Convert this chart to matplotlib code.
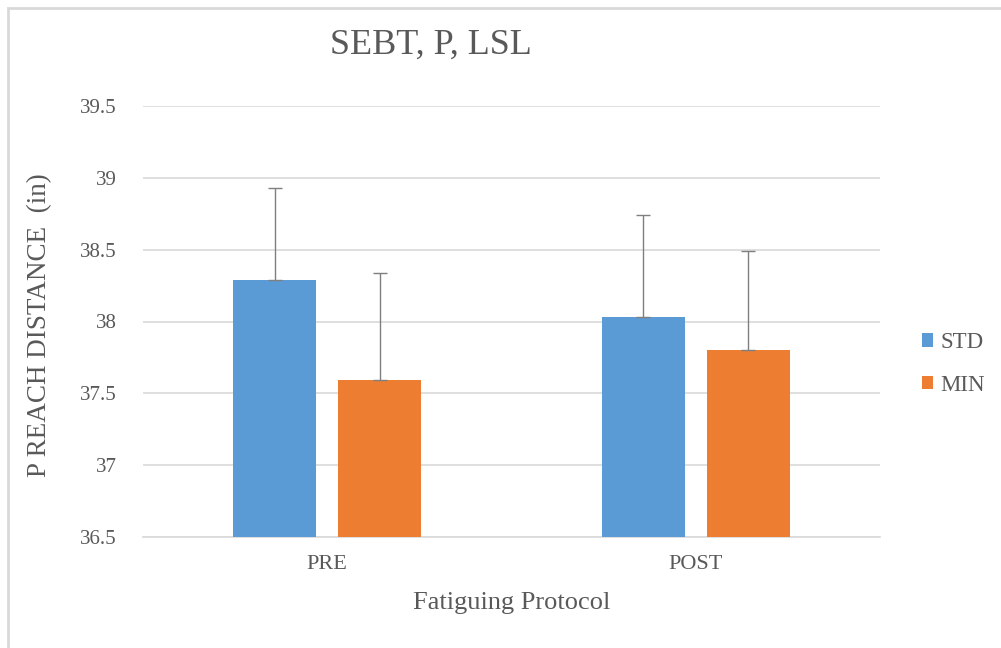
import matplotlib
matplotlib.use("Agg")
import matplotlib.pyplot as plt
from matplotlib.patches import Rectangle
import numpy as np

# Data
categories = ["PRE", "POST"]
series_names = ["STD", "MIN"]
std_means = [38.29, 38.03]
min_means = [37.59, 37.80]
std_err = [0.64, 0.71]
min_err = [0.75, 0.69]
y_ticks = [36.5, 37, 37.5, 38, 38.5, 39, 39.5]
y_tick_labels = ["36.5", "37", "37.5", "38", "38.5", "39", "39.5"]

BLUE = "#5b9bd5"
ORANGE = "#ed7d31"
TEXT = "#595959"
GRID = "#d9d9d9"
ERR = "#7f7f7f"

plt.rcParams["font.family"] = ["Liberation Serif", "DejaVu Serif"]

W, H = 1001, 648
fig = plt.figure(figsize=(W / 100, H / 100), dpi=100)
ax = fig.add_axes([143 / W, (H - 537) / H, (880 - 143) / W, (537 - 106) / H])

x = np.arange(len(categories))
width = 0.2255
offset = 0.142

err_kw = dict(ecolor=ERR, elinewidth=1.0, capsize=5, capthick=1.0)
ax.bar(x - offset, std_means, width, color=BLUE, label=series_names[0],
       yerr=[np.zeros(len(std_err)), std_err], error_kw=err_kw, zorder=3)
ax.bar(x + offset, min_means, width, color=ORANGE, label=series_names[1],
       yerr=[np.zeros(len(min_err)), min_err], error_kw=err_kw, zorder=3)

ax.set_xlim(-0.5, 1.5)
ax.set_ylim(36.5, 39.5)
ax.set_yticks(y_ticks)
ax.set_yticklabels(y_tick_labels)
ax.set_xticks(x)
ax.set_xticklabels(categories)

ax.yaxis.grid(True, color=GRID, linewidth=1.2, zorder=0)
ax.set_axisbelow(True)
for side in ["top", "right", "left"]:
    ax.spines[side].set_visible(False)
ax.spines["bottom"].set_color(GRID)
ax.spines["bottom"].set_linewidth(1.2)
ax.tick_params(axis="both", length=0, colors=TEXT)
ax.tick_params(axis="y", pad=19, labelsize=15)
ax.tick_params(axis="x", pad=13, labelsize=16)

ax.set_xlabel("Fatiguing Protocol", fontsize=19, color=TEXT, va="center")
ax.xaxis.set_label_coords((512 - 143) / (880 - 143), (537 - 603) / (537 - 106))
ax.set_ylabel("P REACH DISTANCE  (in)", fontsize=19.5, color=TEXT, va="center")
ax.yaxis.set_label_coords((40 - 143) / (880 - 143), (537 - 325) / (537 - 106))

fig.text(431 / W, 1 - 45 / H, "SEBT, P, LSL", fontsize=26, color=TEXT,
         ha="center", va="center")

leg = ax.legend(loc="center left", bbox_to_anchor=(922 / W, 1 - 364 / H),
                bbox_transform=fig.transFigure, frameon=False,
                fontsize=16.5, handlelength=0.5, handleheight=0.5,
                handletextpad=0.3, labelspacing=0.95, borderpad=0,
                borderaxespad=0)
for t in leg.get_texts():
    t.set_color(TEXT)

# Chart-area border
fig.patches.append(Rectangle((7.5 / W, -0.1), 1.2, 1 - 8.5 / H + 0.1,
                             transform=fig.transFigure, fill=False,
                             edgecolor=GRID, linewidth=2, zorder=0))

fig.savefig("out.png", dpi=100, facecolor="white")
